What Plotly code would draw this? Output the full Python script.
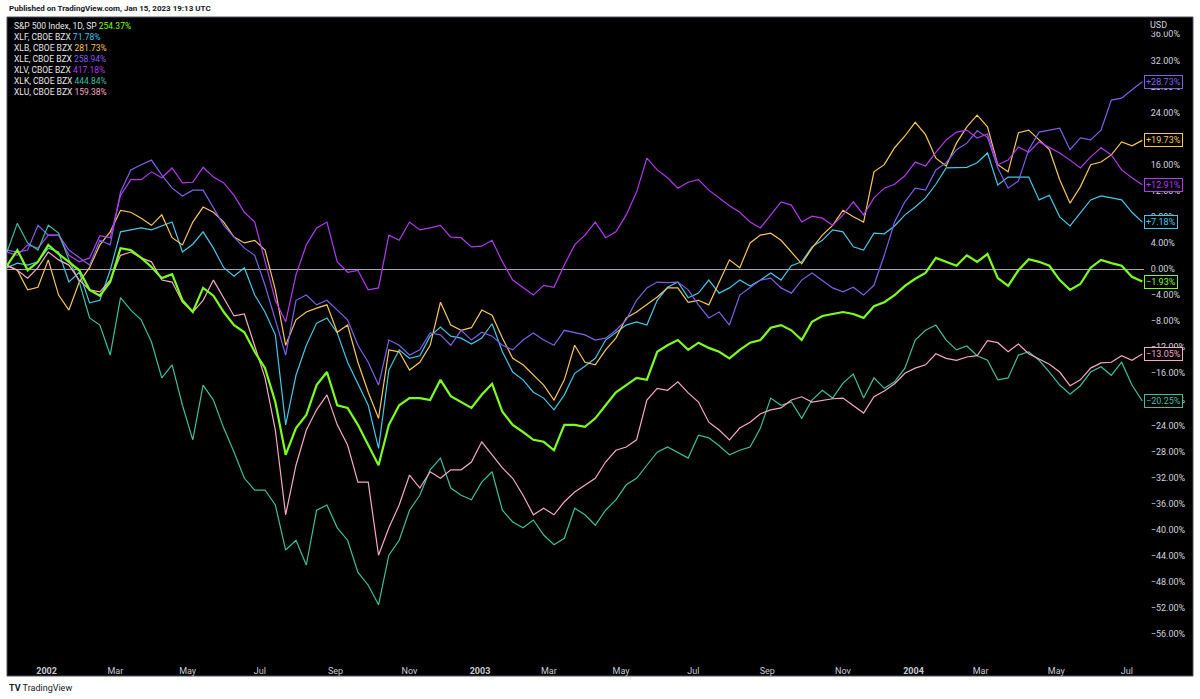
import pandas as pd
import plotly.graph_objects as go

# one sample every STEP trading days, first sample on 2001-11-28
STEP = 6
N_BARS = 661

spx = [0.5, 2.9, -0.2, 1.1, 3.7, 2.3, 1.1, -0.2, -3.2, -4.1,
       -2.0, 3.2, 2.9, 1.7, 0.3, -1.4, -0.8, -4.8, -6.6, -2.9,
       -4.1, -6.6, -8.6, -9.7, -12.7, -15.2, -20.4, -28.5, -24.4, -22.4,
       -17.8, -15.8, -20.9, -21.3, -23.9, -27.0, -30.1, -23.9, -20.9, -19.8,
       -19.8, -20.1, -17.0, -19.5, -20.4, -21.3, -19.3, -17.6, -21.9, -23.9,
       -25.0, -26.2, -26.5, -27.8, -23.9, -23.9, -24.2, -22.9, -20.9, -18.9,
       -17.8, -16.7, -17.0, -12.7, -11.7, -10.9, -12.4, -11.3, -12.1, -12.7,
       -13.7, -12.4, -11.3, -10.9, -9.0, -8.6, -9.4, -10.9, -8.1, -7.2,
       -6.9, -6.6, -6.9, -7.5, -5.7, -5.1, -4.0, -2.6, -1.5, -0.6,
       1.7, 1.1, 0.5, 2.1, 1.1, 2.3, -1.4, -2.6, -0.2, 1.5,
       1.1, 0.5, -1.7, -3.2, -2.3, 0.2, 1.4, 0.9, 0.5, -1.2,
       -1.93]

xlf = [0.2, 0.9, 0.6, 1.1, 3.2, 2.6, -2.0, -0.5, -5.2, -4.8,
       -0.2, 5.7, 6.0, 6.3, 6.0, 6.6, 7.2, 2.6, 3.8, 5.7,
       3.2, 0.2, -1.1, 0.2, -4.0, -6.6, -10.1, -23.9, -16.3, -11.7,
       -8.3, -7.5, -9.8, -14.3, -17.5, -20.9, -27.5, -15.5, -12.4, -13.7,
       -13.3, -10.3, -8.9, -10.3, -10.6, -11.5, -10.6, -8.4, -12.7, -15.8,
       -17.0, -18.9, -19.8, -21.6, -19.3, -16.0, -14.9, -13.7, -10.9, -9.7,
       -8.6, -8.1, -8.6, -4.8, -2.8, -2.0, -4.4, -3.7, -1.7, -3.7,
       -2.9, -1.7, -2.6, -1.7, -0.6, -1.7, 0.5, 1.1, 3.4, 4.4,
       6.0, 5.7, 3.4, 2.9, 5.5, 5.4, 6.6, 8.3, 9.5, 10.9,
       13.0, 15.5, 15.5, 15.6, 16.3, 17.8, 12.9, 14.1, 14.1, 14.1,
       10.6, 11.3, 8.0, 6.6, 8.6, 10.6, 11.2, 10.9, 10.6, 8.7,
       7.18]

xlb = [0.6, -0.2, -3.2, -2.8, 1.4, -4.0, -6.3, -2.0, 0.2, 3.7,
       5.7, 9.0, 8.7, 7.8, 6.7, 8.3, 4.8, 3.7, 7.2, 9.5,
       8.7, 7.2, 4.9, 4.0, 4.4, 2.9, -3.2, -11.7, -7.8, -6.6,
       -6.0, -5.5, -9.7, -8.6, -14.3, -18.9, -22.9, -12.4, -12.7, -15.5,
       -14.3, -11.7, -5.1, -8.6, -9.4, -9.0, -6.3, -7.1, -10.6, -13.7,
       -14.7, -16.3, -17.8, -20.1, -17.0, -11.7, -14.3, -14.7, -12.4, -10.6,
       -7.5, -6.6, -5.5, -4.3, -2.9, -2.9, -5.1, -4.8, -5.5, -2.0,
       1.4, 0.2, 4.0, 5.2, 5.5, 4.4, 2.6, 0.8, 3.2, 5.2,
       6.7, 9.0, 8.0, 7.2, 14.9, 16.0, 18.6, 20.4, 22.5, 20.6,
       17.0, 15.8, 19.3, 21.8, 23.6, 21.8, 16.0, 14.9, 20.9, 21.3,
       19.8, 18.3, 13.7, 10.1, 12.6, 16.0, 16.4, 17.5, 19.5, 18.9,
       19.73]

xle = [2.9, 2.6, 2.9, 6.7, 5.2, 5.2, 2.9, 1.8, 0.6, 4.4,
       3.7, 11.8, 15.2, 16.0, 16.7, 14.4, 12.4, 11.2, 12.1, 12.1,
       9.5, 6.7, 4.9, 3.2, 2.1, -2.5, -7.8, -13.2, -4.8, -4.0,
       -5.5, -4.8, -6.3, -7.8, -11.7, -14.3, -17.8, -10.9, -11.7, -13.2,
       -12.4, -9.8, -10.1, -11.7, -9.4, -10.9, -9.7, -10.3, -11.7, -12.4,
       -10.9, -9.8, -10.9, -11.7, -9.4, -9.7, -10.1, -10.9, -10.6, -9.4,
       -7.8, -4.8, -2.9, -2.0, -2.1, -2.0, -3.2, -5.5, -7.5, -6.6,
       -8.6, -4.0, -2.9, -1.7, -1.4, -2.9, -3.7, -1.7, -0.6, -1.8,
       -2.9, -3.5, -2.8, -4.0, -2.5, 2.1, 7.2, 10.3, 12.4, 12.1,
       15.2, 16.3, 18.3, 19.3, 21.2, 20.2, 15.5, 12.4, 13.5, 18.3,
       21.0, 21.3, 21.6, 18.3, 20.1, 19.8, 21.3, 25.9, 26.2, 27.5,
       28.73]

xlv = [2.6, 2.1, 3.7, 3.2, 5.2, 5.2, 2.1, 1.1, 1.7, 5.1,
       4.8, 11.3, 13.7, 13.7, 14.9, 14.0, 15.5, 13.2, 13.3, 15.6,
       14.1, 13.2, 11.3, 8.7, 7.2, 1.1, -4.8, -8.1, -0.9, 3.7,
       6.3, 7.2, 1.1, -0.5, -0.2, -3.2, -2.9, 5.2, 4.4, 7.2,
       6.0, 6.3, 6.7, 4.9, 4.8, 3.4, 3.5, 4.4, 1.1, -1.7,
       -2.9, -4.0, -2.5, -2.8, 0.6, 3.7, 5.2, 7.2, 4.8, 5.7,
       8.3, 11.8, 17.0, 15.2, 14.0, 12.4, 13.3, 13.7, 12.1, 10.9,
       9.7, 8.7, 7.2, 6.3, 8.3, 10.3, 9.8, 7.2, 8.1, 7.8,
       6.7, 8.3, 10.3, 8.3, 10.9, 12.4, 13.0, 14.3, 16.4, 15.8,
       17.9, 19.8, 21.0, 21.3, 20.1, 20.7, 16.0, 16.7, 18.7, 17.9,
       19.5, 18.7, 17.8, 16.7, 15.5, 17.2, 18.6, 17.5, 15.2, 14.0,
       12.91]

xlk = [2.6, 7.0, 4.0, 2.9, 6.7, 5.5, 1.4, -2.0, -7.5, -8.6,
       -13.2, -4.4, -6.3, -7.8, -11.2, -16.7, -14.7, -20.9, -26.2, -17.8,
       -20.1, -24.4, -28.1, -32.1, -33.9, -33.9, -36.2, -43.1, -41.6, -45.4,
       -37.0, -36.2, -39.7, -41.6, -46.5, -48.5, -51.5, -43.9, -41.6, -37.0,
       -34.7, -30.8, -29.0, -33.6, -34.7, -35.4, -32.7, -31.1, -37.0, -38.8,
       -39.7, -38.5, -40.8, -42.3, -41.3, -36.7, -37.7, -39.3, -37.0, -35.4,
       -33.1, -32.1, -30.1, -28.1, -27.3, -28.1, -29.0, -25.5, -25.9, -27.1,
       -28.5, -27.8, -27.3, -24.4, -19.8, -20.9, -20.4, -22.9, -20.1, -18.6,
       -19.8, -17.5, -16.1, -19.8, -16.7, -18.3, -17.3, -15.2, -10.9, -9.4,
       -8.6, -10.9, -12.4, -11.8, -13.3, -14.0, -17.0, -16.7, -13.2, -12.7,
       -14.0, -15.8, -17.8, -19.2, -17.9, -15.8, -15.0, -16.3, -14.3, -17.8,
       -20.25]

xlu = [0.5, -0.2, -1.4, 0.2, 2.6, 1.4, 0.6, -1.7, -3.2, -3.5,
       -1.7, 2.1, 2.6, 1.7, 1.1, -1.7, -2.0, -5.1, -6.6, -4.8,
       -1.7, -4.4, -7.2, -6.9, -11.7, -16.7, -24.7, -37.7, -30.1, -24.7,
       -21.6, -19.3, -23.9, -27.0, -32.7, -32.7, -43.9, -39.7, -36.2, -31.6,
       -33.6, -31.1, -32.1, -30.8, -30.8, -29.6, -26.5, -28.5, -30.5, -32.1,
       -34.7, -37.7, -36.7, -37.7, -35.7, -34.2, -33.1, -32.1, -29.6, -27.8,
       -27.3, -26.2, -20.1, -18.3, -18.6, -17.3, -19.0, -20.4, -23.5, -24.7,
       -26.2, -24.4, -23.5, -22.2, -21.6, -21.3, -20.1, -19.6, -20.4, -20.1,
       -19.9, -19.8, -21.0, -22.1, -19.6, -18.7, -17.6, -16.0, -15.2, -14.7,
       -13.0, -13.7, -14.0, -13.5, -13.3, -11.0, -11.3, -12.7, -11.5, -13.0,
       -13.8, -14.6, -15.8, -17.9, -17.0, -15.2, -14.4, -14.3, -13.3, -14.0,
       -13.05]

names = ["S&P 500 Index, 1D, SP", "XLF, CBOE BZX", "XLB, CBOE BZX", "XLE, CBOE BZX",
         "XLV, CBOE BZX", "XLK, CBOE BZX", "XLU, CBOE BZX"]
totals = ["254.37%", "71.78%", "281.73%", "258.94%", "417.18%", "444.84%", "159.38%"]
colors = ["#7cff1e", "#45c7e8", "#f7c65a", "#7f5fe6", "#b13bef", "#3fbea0", "#f5a9c4"]
series = [spx, xlf, xlb, xle, xlv, xlk, xlu]

MONTHS = ["Jan", "Feb", "Mar", "Apr", "May", "Jun", "Jul", "Aug", "Sep", "Oct", "Nov", "Dec"]
Y_TICKS = list(range(-56, 37, 4))

# NYSE closures in the period
holidays = ["2001-11-22", "2001-12-25",
            "2002-01-01", "2002-01-21", "2002-02-18", "2002-03-29", "2002-05-27",
            "2002-07-04", "2002-09-02", "2002-11-28", "2002-12-25",
            "2003-01-01", "2003-01-20", "2003-02-17", "2003-04-18", "2003-05-26",
            "2003-07-04", "2003-09-01", "2003-11-27", "2003-12-25",
            "2004-01-01", "2004-01-19", "2004-02-16", "2004-04-09", "2004-05-31",
            "2004-06-11", "2004-07-05"]

days = pd.date_range("2001-11-28", periods=N_BARS,
                     freq=pd.offsets.CustomBusinessDay(holidays=holidays))
bars = list(range(0, N_BARS, STEP))

# time axis: first session of every other month
pos = pd.Series(range(len(days)), index=days)
first = pos.groupby([days.year, days.month]).first()
tickvals, ticktext = [], []
for (yr, mo), idx in first.items():
    if mo % 2 == 1 and idx > 0:
        tickvals.append(idx)
        ticktext.append("<b>%d</b>" % yr if mo == 1 else MONTHS[mo - 1])

def pct(v, sign=False):
    s = ("%+.2f%%" if sign else "%.2f%%") % v
    return s.replace("-", "\u2212")

# pixel frame of the plot area
PL, PR, PT, PB = 7, 1144, 17, 660
def px(x):
    return (x - PL) / (PR - PL)
def py(y):
    return (PB - y) / (PB - PT)

FONT = "Roboto"

fig = go.Figure()
order = [1, 2, 3, 4, 5, 6, 0]
for k in order:
    fig.add_trace(
        go.Scatter(
            x=bars,
            y=series[k],
            mode="lines",
            name=names[k],
            line=dict(color=colors[k], width=2.2 if k == 0 else 1.2),
            hoverinfo="skip",
        )
    )

shapes = [
    dict(type="rect", xref="paper", yref="paper",
         x0=0, x1=px(1193), y0=py(676), y1=1,
         fillcolor="black", line=dict(color="#50535e", width=1), layer="below"),
]

annotations = []
# legend in the top-left corner
for k in range(len(names)):
    annotations.append(dict(
        xref="paper", yref="paper", x=px(12), y=py(26 + 11 * k),
        xanchor="left", yanchor="middle", showarrow=False,
        text="%s <span style='color:%s'>%s</span>" % (names[k], colors[k], totals[k]),
        font=dict(family=FONT, size=8.5, color="#e8e8ec"),
    ))

# last value tags on the price scale
for k in range(len(series)):
    annotations.append(dict(
        xref="paper", yref="y", x=1, y=series[k][-1],
        xanchor="left", yanchor="middle", showarrow=False,
        text=pct(series[k][-1], sign=True),
        font=dict(family=FONT, size=9, color=colors[k]),
        bgcolor="black", bordercolor=colors[k], borderwidth=1, borderpad=1,
    ))

annotations += [
    dict(xref="paper", yref="paper", x=px(1148), y=py(25), xanchor="left", yanchor="middle",
         showarrow=False, text="USD", bgcolor="black",
         font=dict(family=FONT, size=9, color="#d1d4dc")),
    dict(xref="paper", yref="paper", x=px(7), y=py(9), xanchor="left", yanchor="middle",
         showarrow=False, text="<b>Published on TradingView.com, Jan 15, 2023 19:13 UTC</b>",
         font=dict(family=FONT, size=8, color="#131722")),
    dict(xref="paper", yref="paper", x=px(7), y=py(688), xanchor="left", yanchor="middle",
         showarrow=False, text="<b>TV</b> TradingView",
         font=dict(family=FONT, size=9, color="#131722")),
]

fig.update_layout(
    width=1200,
    height=699,
    autosize=False,
    margin=dict(l=PL, r=1200 - PR, t=PT, b=699 - PB),
    paper_bgcolor="white",
    plot_bgcolor="black",
    showlegend=False,
    shapes=shapes,
    annotations=annotations,
    xaxis=dict(
        range=[0, N_BARS],
        showgrid=False,
        zeroline=False,
        showline=False,
        tickvals=tickvals,
        ticktext=ticktext,
        ticks="outside",
        ticklen=2,
        tickcolor="black",
        tickfont=dict(family=FONT, size=9, color="#c9ccd4"),
    ),
    yaxis=dict(
        side="right",
        range=[(269 - PB) / 6.52, (269 - PT) / 6.52],
        showgrid=False,
        zeroline=True,
        zerolinecolor="#a3a6af",
        zerolinewidth=1,
        showline=False,
        tickvals=Y_TICKS,
        ticktext=[pct(v) for v in Y_TICKS],
        ticks="outside",
        ticklen=4,
        tickcolor="black",
        tickfont=dict(family=FONT, size=9, color="#d1d4dc"),
    ),
)

# the page body has a default 8px margin; drop it so the figure sits at the corner
fig.write_html("out.html", config={"displayModeBar": False},
               post_script="document.body.style.margin='0px';")
